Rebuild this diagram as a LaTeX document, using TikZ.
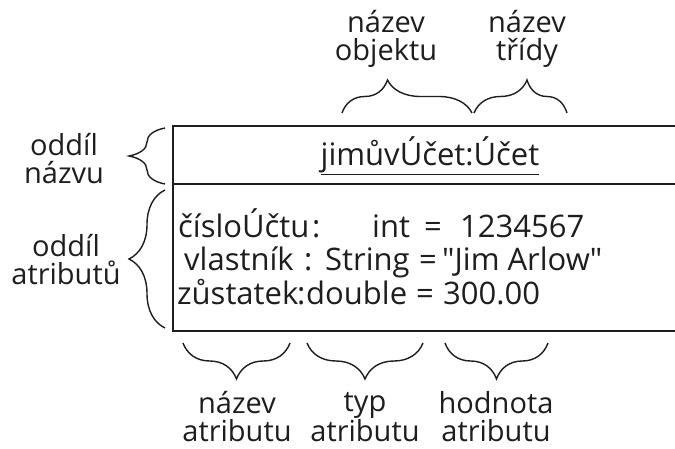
\documentclass[tikz,border=0pt]{standalone}
\usepackage{fontspec}
\setmainfont{Open Sans}
\usetikzlibrary{decorations.pathreplacing}
\definecolor{ink}{HTML}{1E1E1E}
\begin{document}
\begin{tikzpicture}[x=1pt,y=-1pt,
  lbl/.style={font=\fontsize{29}{28}\selectfont, align=center, inner sep=0pt, text=ink},
  txt/.style={font=\fontsize{31}{31}\selectfont, inner sep=0pt, anchor=base west, text=ink},
  brc/.style={decorate, decoration={brace, amplitude=#1}, line width=1.4pt, draw=ink},
  boxline/.style={line width=2.2pt, draw=ink}
]
\useasboundingbox (0,0) rectangle (675,448);
\fill[white] (0,0) rectangle (675,448);

% box
\coordinate (tl) at (173,126);
\coordinate (br) at (700,331);
\coordinate (dl) at (173,184);
\coordinate (dr) at (700,184);
\draw[boxline] (tl) rectangle (br);
\draw[boxline] (dl) -- (dr);

% title
\node[txt, anchor=base] (title) at (430,165) {\underline{jimůvÚčet:Účet}};

% attribute lines
\node[txt] (n1) at (178,237) {čísloÚčtu};
\node[txt] (c1) at (312,237) {:};
\node[txt] (t1) at (372,237) {int};
\node[txt] (e1) at (424,237) {=};
\node[txt] (v1) at (460,237) {1234567};

\node[txt] (n2) at (184,270) {vlastník};
\node[txt] (c2) at (304,270) {:};
\node[txt] (t2) at (325,270) {String};
\node[txt] (e2) at (419,270) {=};
\node[txt] (v2) at (442,270) {\textquotedbl Jim Arlow\textquotedbl};

\node[txt] (n3) at (177,304) {zůstatek};
\node[txt] (c3) at (297,304) {:};
\node[txt] (t3) at (306,304) {double};
\node[txt] (e3) at (416,304) {=};
\node[txt] (v3) at (443,304) {300.00};

% top braces and labels
\coordinate (ta1) at (342,113);
\coordinate (tb1) at (472,113);
\coordinate (ta2) at (474,113);
\coordinate (tb2) at (567,113);
\draw[brc=33, decoration={aspect=0.35}] (ta1) -- (tb1);
\draw[brc=33, decoration={aspect=0.57}] (ta2) -- (tb2);
\node[lbl, anchor=north] (lobj) at (386,10) {název\\objektu};
\node[lbl, anchor=north] (lcls) at (527,10) {název\\třídy};

% left braces and labels
\coordinate (la1) at (165,184);
\coordinate (lb1) at (165,128);
\coordinate (la2) at (165,328);
\coordinate (lb2) at (165,190);
\draw[brc=36, decoration={aspect=0.5}] (la1) -- (lb1);
\draw[brc=36, decoration={aspect=0.5}] (la2) -- (lb2);
\node[lbl] (lname) at (64,159) {oddíl\\názvu};
\node[lbl] (lattr) at (66,260) {oddíl\\atributů};

% bottom braces and labels
\coordinate (ba1) at (290,343);
\coordinate (bb1) at (183,343);
\coordinate (ba2) at (423,343);
\coordinate (bb2) at (307,343);
\coordinate (ba3) at (548,343);
\coordinate (bb3) at (445,343);
\draw[brc=36] (ba1) -- (bb1);
\draw[brc=36] (ba2) -- (bb2);
\draw[brc=36] (ba3) -- (bb3);
\node[lbl, anchor=south] (lan) at (237,442) {název\\atributu};
\node[lbl, anchor=south] (lat) at (365,442) {typ\\atributu};
\node[lbl, anchor=south] (lav) at (496,442) {hodnota\\atributu};
\end{tikzpicture}
\end{document}
